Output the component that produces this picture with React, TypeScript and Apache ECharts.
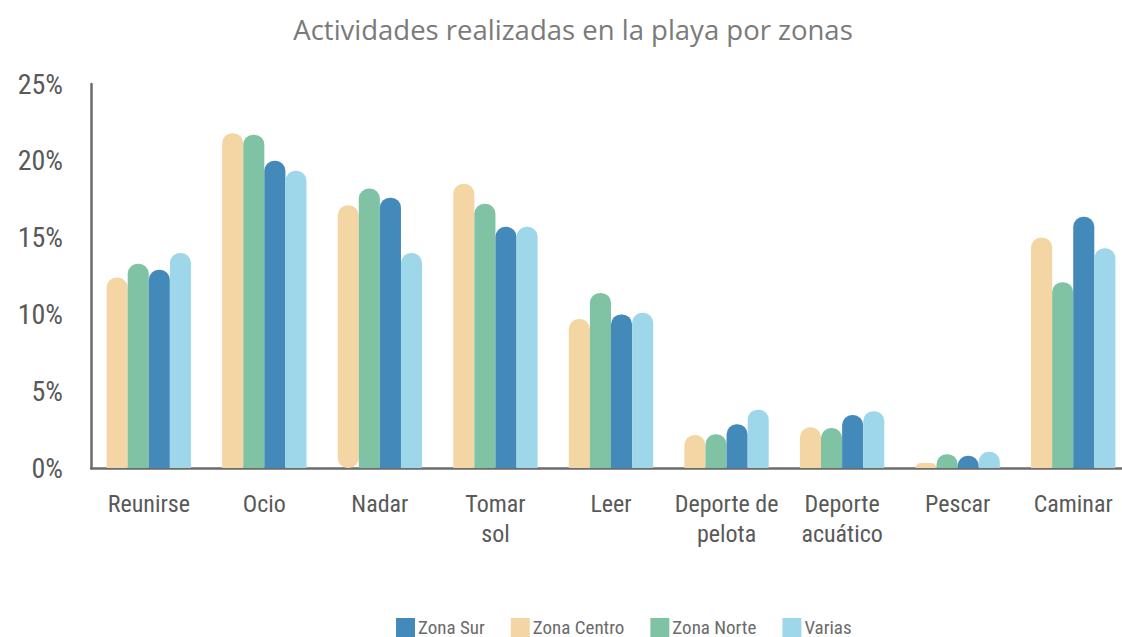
import React, { useEffect, useRef } from "react";
import * as echarts from "echarts";

const categories = ["Reunirse", "Ocio", "Nadar", "Tomar\nsol", "Leer", "Deporte de\npelota", "Deporte\nacuático", "Pescar", "Caminar"];
const zonaCentro = [12.4, 21.8, 17.1, 18.5, 9.7, 2.15, 2.65, 0.33, 15.0];
const zonaNorte = [13.3, 21.7, 18.2, 17.2, 11.4, 2.2, 2.6, 0.9, 12.1];
const zonaSur = [12.9, 20.0, 17.6, 15.7, 10.0, 2.85, 3.45, 0.8, 16.35];
const varias = [14.0, 19.35, 14.0, 15.7, 10.1, 3.8, 3.7, 1.05, 14.3];
const legendOrder = ["Zona Sur", "Zona Centro", "Zona Norte", "Varias"];

const FONT = "'Roboto Condensed', 'Liberation Sans Narrow', 'DejaVu Sans Condensed', Roboto, sans-serif";

export default function App() {
  const ref = useRef<HTMLDivElement>(null);
  useEffect(() => {
    document.body.style.margin = "0";
    const chart = echarts.init(ref.current!, undefined, { renderer: "svg" });
    const mk = (name: string, data: number[], color: string) => ({
      name,
      type: "bar",
      data: data.map((v, i) =>
        name === "Zona Centro" && i === 2
          ? { value: v, itemStyle: { borderRadius: 10 } }
          : v
      ),
      barGap: "0%",
      barCategoryGap: "27%",
      itemStyle: { color, borderRadius: [10, 10, 0, 0] },
    });
    chart.setOption({
      animation: false,
      textStyle: { fontFamily: FONT },
      title: {
        text: "Actividades realizadas en la playa por zonas",
        left: 568,
        textAlign: "center",
        top: 10,
        textStyle: { fontFamily: "'Open Sans', sans-serif", fontSize: 27.5, fontWeight: "normal", color: "#7a7a7a" },
      },
      legend: {
        data: legendOrder,
        bottom: -5,
        left: 391,
        itemWidth: 19,
        itemHeight: 19,
        itemGap: 26,
        icon: "rect",
        textStyle: { fontFamily: FONT, fontSize: 19, color: "#6b6b6b", padding: [0, 0, 0, -2] },
      },
      grid: { left: 91, right: 9, top: 84, bottom: 169, containLabel: false },
      xAxis: {
        type: "category",
        data: categories,
        axisLine: { lineStyle: { color: "#6b6b6b", width: 2.5 } },
        axisTick: { show: false },
        axisLabel: { fontFamily: FONT, fontSize: 24, color: "#595959", margin: 21, lineHeight: 30, interval: 0 },
      },
      yAxis: {
        type: "value",
        min: 0,
        max: 25,
        interval: 5,
        axisLine: { show: true, lineStyle: { color: "#6b6b6b", width: 2.5 } },
        axisTick: { show: false },
        splitLine: { show: false },
        axisLabel: { fontFamily: FONT, fontSize: 28, color: "#595959", margin: 28, formatter: "{value}%" },
      },
      series: [
        mk("Zona Centro", zonaCentro, "#f4d6a5"),
        mk("Zona Norte", zonaNorte, "#7fc3a4"),
        mk("Zona Sur", zonaSur, "#438abb"),
        mk("Varias", varias, "#9fd7ea"),
      ],
    });
    return () => chart.dispose();
  }, []);
  return (
    <div style={{ width: 1122, height: 637, overflow: "hidden", position: "relative" }}>
      <div ref={ref} style={{ width: 1140, height: 637 }} />
    </div>
  );
}
